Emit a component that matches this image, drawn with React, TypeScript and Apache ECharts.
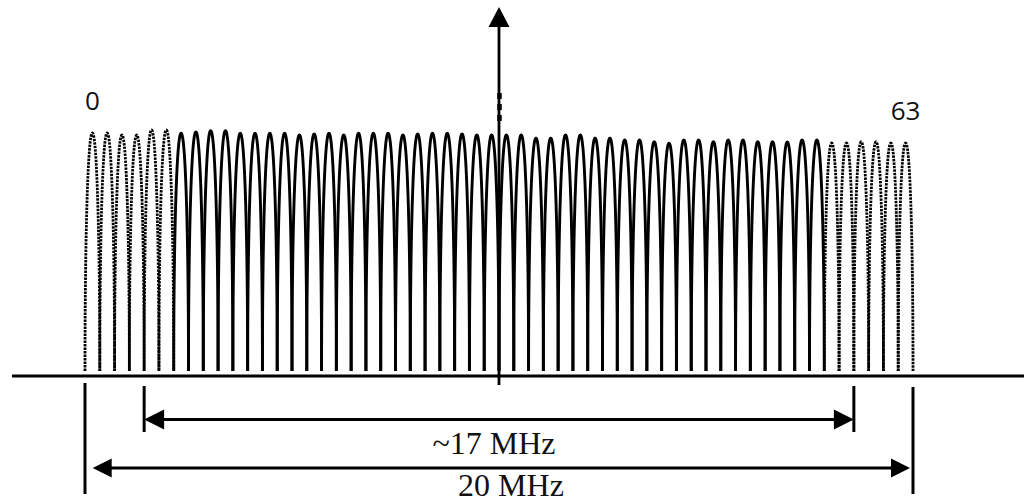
import React, { useEffect, useRef } from "react";
import * as echarts from "echarts";

// Subcarrier index labels shown above the first and last lobes
const subcarrierLabels = ["0", "63"];
// Number of guard (dotted) lobes at each edge
const guardLeftCount = 6;
const guardRightCount = 6;
// Relative peak level of each drawn lobe, left to right
const guardLeftPeaks = [0.992, 0.992, 0.983, 0.983, 1.004, 1.004];
const usedLeftPeaks = [
  0.99, 0.996, 1.001, 1.001, 0.99, 0.99, 0.99, 0.99, 0.983, 0.9875, 0.99,
  0.983, 0.99, 0.99, 0.99, 0.983, 0.9875, 0.99, 0.99, 0.9875, 0.983, 0.983,
];
const usedRightPeaks = [
  0.983, 0.983, 0.97, 0.97, 0.983, 0.983, 0.97, 0.97, 0.9625, 0.9625, 0.955,
  0.949, 0.9625, 0.9625, 0.955, 0.9625, 0.9625, 0.955, 0.955, 0.954, 0.9625, 0.9625,
];
const guardRightPeaks = [0.95, 0.95, 0.955, 0.955, 0.95, 0.95];
// Bandwidth spans (in lobe-boundary units)
const spanLabels = ["~17 MHz", "20 MHz"];
const spanFrom = [4, 0];
const spanTo = [52, 56];

const lobePeaks = [...guardLeftPeaks, ...usedLeftPeaks, ...usedRightPeaks, ...guardRightPeaks];
const lobeCount = lobePeaks.length;

export default function App() {
  const ref = useRef<HTMLDivElement>(null);
  useEffect(() => {
    if (!ref.current) return;
    const chart = echarts.init(ref.current, undefined, { renderer: "svg" });
    const data = lobePeaks.map((p, i) => [
      i,
      p,
      i < guardLeftCount || i >= lobeCount - guardRightCount ? 1 : 0,
    ]);
    const shapeExp = 2.1;
    chart.setOption({
      animation: false,
      backgroundColor: "#fff",
      grid: { left: 85, top: 131, width: 828, height: 240 },
      xAxis: { type: "value", min: 0, max: lobeCount, show: false },
      yAxis: { type: "value", min: 0, max: 1, show: false },
      series: [
        {
          type: "custom",
          clip: false,
          encode: { x: 0, y: 1 },
          data,
          renderItem: (params: any, api: any) => {
            const k = api.value(0) as number;
            const peak = api.value(1) as number;
            const dotted = api.value(2) === 1;
            const left = api.coord([k, 0]);
            const right = api.coord([k + 1, 0]);
            const top = api.coord([k + 0.5, peak]);
            const cx = (left[0] + right[0]) / 2;
            const hw = (right[0] - left[0]) / 2;
            const base = left[1];
            const h = base - top[1];
            const pts: number[][] = [];
            const n = 100;
            for (let i = 0; i <= n; i++) {
              const th = -Math.PI / 2 + (Math.PI * i) / n;
              const s = Math.sin(th);
              const c = Math.cos(th);
              const sx = Math.sign(s) * Math.pow(Math.abs(s), 2 / shapeExp);
              const cy = Math.pow(Math.abs(c), 2 / shapeExp);
              pts.push([cx + hw * sx, base - h * cy]);
            }
            return {
              type: "polyline",
              shape: { points: pts },
              style: {
                stroke: "#000",
                fill: "none",
                lineWidth: dotted ? 2.8 : 2.9,
                lineDash: dotted ? [2.4, 1.1] : null,
              },
            };
          },
        },
      ],
    });

    const px = (x: number, y: number) =>
      chart.convertToPixel({ gridIndex: 0 }, [x, y]) as number[];
    const base = px(0, 0)[1];
    const axisY = base + 5;
    const cx = px(lobeCount / 2, 0)[0];
    const black = "#000";
    const line = (x1: number, y1: number, x2: number, y2: number, w = 3, dash?: number[]) => ({
      type: "line",
      shape: { x1, y1, x2, y2 },
      style: { stroke: black, lineWidth: w, lineDash: dash || null },
      silent: true,
    });
    const tri = (pts: number[][]) => ({
      type: "polygon",
      shape: { points: pts },
      style: { fill: black },
      silent: true,
    });
    const g: any[] = [];
    // horizontal axis
    g.push(line(12, axisY, 1024, axisY, 3));
    // vertical axis arrow
    g.push(line(cx, axisY + 9, cx, 26, 2.8));
    g.push(tri([[cx, 7], [cx - 10.5, 27], [cx + 10.5, 27]]));
    g.push(line(cx + 0.5, 93, cx + 0.5, 121, 4.5, [6, 5]));

    // span arrows
    const spanY = [419.5, 468];
    const headLen = [20, 19];
    const headHalf = [10, 9.5];
    const tipInsetL = [0, 7.7];
    const tipInsetR = [0, 3];
    const edgeTop = [386, 383];
    const edgeBottom = [432, 494];
    const textY = [443, 485];
    const textDx = [-5, 12];
    spanLabels.forEach((lab, i) => {
      const xl = px(spanFrom[i], 0)[0];
      const xr = px(spanTo[i], 0)[0];
      g.push(line(xl, edgeTop[i], xl, edgeBottom[i]));
      g.push(line(xr, edgeTop[i] + (i === 1 ? 4 : 0), xr, edgeBottom[i]));
      const tl = xl + tipInsetL[i];
      const tr = xr - tipInsetR[i];
      const y = spanY[i];
      g.push(line(tl + headLen[i] - 2, y, tr - headLen[i] + 2, y));
      g.push(tri([[tl, y], [tl + headLen[i], y - headHalf[i]], [tl + headLen[i], y + headHalf[i]]]));
      g.push(tri([[tr, y], [tr - headLen[i], y - headHalf[i]], [tr - headLen[i], y + headHalf[i]]]));
      g.push({
        type: "text",
        silent: true,
        style: {
          text: lab,
          x: (xl + xr) / 2 + textDx[i],
          y: textY[i],
          align: "center",
          verticalAlign: "middle",
          fill: "#111",
          font: "32px 'Liberation Serif'",
        },
      });
    });

    // subcarrier index labels above the edge lobes
    const labelLobes = [0, lobeCount - 1];
    subcarrierLabels.forEach((lab, i) => {
      const k = labelLobes[i];
      const p = px(k + 0.5, lobePeaks[k]);
      g.push({
        type: "text",
        silent: true,
        style: {
          text: lab,
          x: p[0],
          y: p[1] - 33,
          align: "center",
          verticalAlign: "middle",
          fill: "#111",
          font: "26px 'Open Sans'",
        },
      });
    });

    chart.setOption({ graphic: g });
    return () => chart.dispose();
  }, []);
  return (
    <div
      ref={ref}
      style={{ position: "fixed", left: 0, top: 0, width: 1026, height: 503, background: "#fff" }}
    />
  );
}
